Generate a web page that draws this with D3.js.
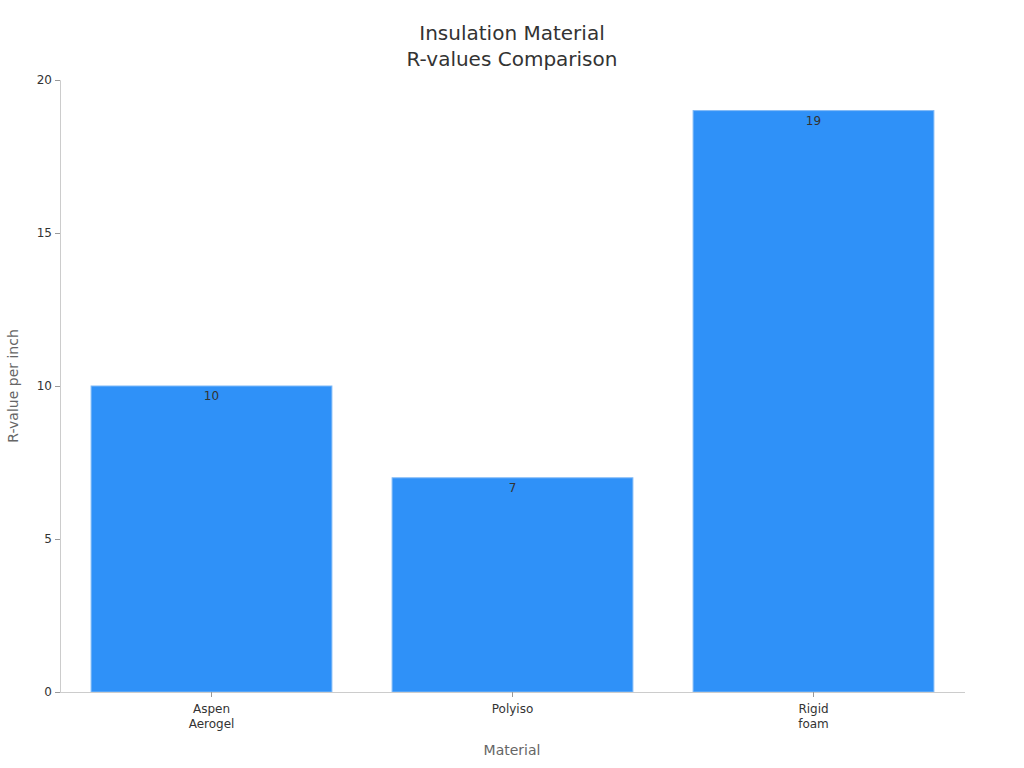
<!DOCTYPE html>
<html><head><meta charset="utf-8">
<script src="https://cdn.jsdelivr.net/npm/d3@7"></script>
<style>body{margin:0;background:#fff;}svg{display:block;font-family:"DejaVu Sans",sans-serif;}</style>
</head><body>
<svg id="c" width="1024" height="768"></svg>
<script>
const categories = [["Aspen","Aerogel"],["Polyiso"],["Rigid","foam"]];
const values = [10, 7, 19];
const yTicks = [0, 5, 10, 15, 20];
const titleLines = ["Insulation Material", "R-values Comparison"];
const xTitle = "Material";
const yTitle = "R-value per inch";

const svg = d3.select("#c");
const m = {l:60, r:60, t:80, b:76};
const W = 1024, H = 768;
const keys = categories.map(c => c.join(" "));
const x = d3.scaleBand().domain(keys).range([m.l + 1, W - m.r]).paddingInner(0.2).paddingOuter(0.1);
const y = d3.scaleLinear().domain([0, 20]).range([H - m.b, m.t]);

// title
svg.append("text").attr("x", 512).attr("y", 40).attr("text-anchor","middle")
  .attr("font-size", 20).attr("fill","#333")
  .selectAll("tspan").data(titleLines).join("tspan")
  .attr("x", 512).attr("dy", (d,i)=> i? 26 : 0).text(d=>d);

// bars
svg.append("g").selectAll("rect").data(values).join("rect")
  .attr("x", (d,i)=> x(keys[i])).attr("width", x.bandwidth())
  .attr("y", d=> y(d)).attr("height", d=> y(0)-y(d))
  .attr("fill","#2f91f8").attr("stroke","#7fb9f7").attr("stroke-width",1);

svg.append("g").selectAll("text").data(values).join("text")
  .attr("x", (d,i)=> x(keys[i]) + x.bandwidth()/2).attr("y", d=> y(d)+14)
  .attr("text-anchor","middle").attr("font-size",12).attr("fill","#333").text(d=>d);

// y axis
const ya = svg.append("g").attr("transform",`translate(${m.l},0)`)
  .call(d3.axisLeft(y).tickValues(yTicks).tickSize(5).tickPadding(3));
ya.select(".domain").attr("stroke","#ccc");
ya.selectAll(".tick line").attr("stroke","#999");
ya.selectAll(".tick text").attr("font-size",12).attr("fill","#333").attr("font-family","DejaVu Sans");

// x axis
const xa = svg.append("g").attr("transform",`translate(0,${H-m.b})`)
  .call(d3.axisBottom(x).tickSize(5).tickSizeOuter(0).tickPadding(7));
xa.select(".domain").attr("stroke","#ccc").attr("d", `M${m.l},0.5H${W - m.r + 1}`);
xa.selectAll(".tick line").attr("stroke","#999");
xa.selectAll(".tick text").attr("font-size",12).attr("fill","#333").attr("font-family","DejaVu Sans")
  .text(null)
  .each(function(d,i){
    const t = d3.select(this);
    categories[i].forEach((s,j)=> t.append("tspan").attr("x",0).attr("dy", j? "1.33em" : "0.71em").text(s));
  });

svg.append("text").attr("x", (m.l + W - m.r)/2).attr("y", 755).attr("text-anchor","middle")
  .attr("font-size",14).attr("fill","#666").text(xTitle);
svg.append("text").attr("transform",`translate(18,${(m.t + H - m.b)/2}) rotate(-90)`)
  .attr("text-anchor","middle").attr("font-size",14).attr("fill","#666").text(yTitle);
</script>
</body></html>
